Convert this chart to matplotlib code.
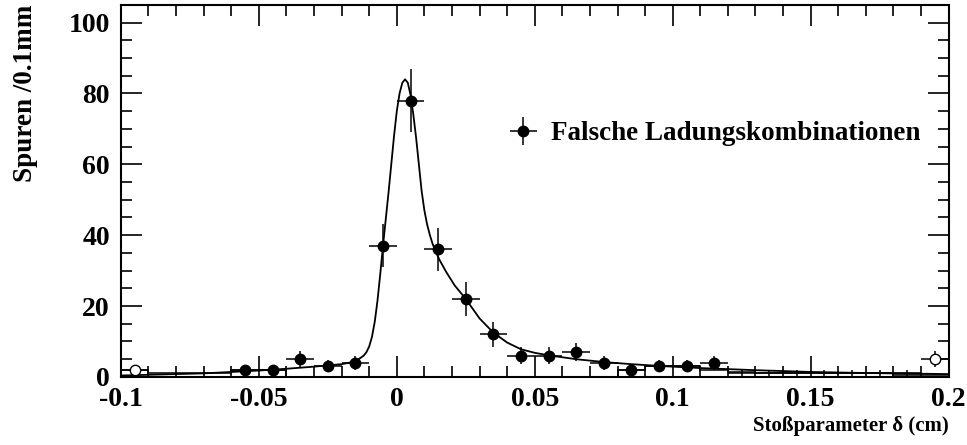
import numpy as np
import matplotlib
matplotlib.use('Agg')
import matplotlib.pyplot as plt
from matplotlib.ticker import MultipleLocator

plt.rcParams['font.family'] = ['Liberation Serif', 'DejaVu Serif']
plt.rcParams['font.weight'] = 'bold'

# data points (bin centres, counts), wrong charge combinations
x_pts = [-0.055, -0.045, -0.035, -0.025, -0.015, -0.005, 0.005, 0.015, 0.025,
         0.035, 0.045, 0.055, 0.065, 0.075, 0.085, 0.095, 0.105, 0.115]
y_pts = [2, 2, 5, 3, 4, 37, 78, 36, 22, 12, 6, 6, 7, 4, 2, 3, 3, 4]

# points outside the fit range (open circles)
x_out = [-0.095, 0.195]
y_out = [2, 5]

# near-empty bins, drawn as error crosses only
x_low = [0.125, 0.135, 0.145, 0.155, 0.165, 0.175, 0.185]
y_low = [1, 1, 1, 1, 1, 1, 1]

# low histogram underneath (bin edges from -0.1 to 0.2, width 0.01)
hist_counts = [2, 1, 1, 1, 2, 2, 0, 0, 0, 0, 0, 0, 0, 0, 0, 0, 0, 0,
               2, 3, 3, 2, 1.5, 1, 1, 1, 1, 1, 0.5, 0.5]

# fit curve
fit_x = [-0.1, -0.09, -0.08, -0.07, -0.06, -0.05, -0.04, -0.03, -0.02, -0.016,
         -0.014, -0.012, -0.011, -0.010, -0.009, -0.008, -0.007, -0.006, -0.005,
         -0.004, -0.003, -0.002, -0.001, 0.0, 0.001, 0.002, 0.003, 0.004, 0.005,
         0.006, 0.007, 0.008, 0.009, 0.010, 0.011, 0.012, 0.013, 0.014, 0.0155,
         0.018, 0.021, 0.025, 0.030, 0.035, 0.040, 0.045, 0.050, 0.055, 0.065,
         0.075, 0.085, 0.095, 0.11, 0.13, 0.15, 0.17, 0.2]
fit_y = [0.4, 0.6, 0.8, 1.0, 1.4, 1.8, 2.3, 2.9, 3.6, 4.2,
         4.9, 6.0, 7.0, 8.6, 11.3, 15.5, 21.5, 29, 37,
         44.5, 52, 60, 68, 75, 80, 83, 84, 83, 79.5,
         74, 67.5, 60, 52.5, 47, 43, 40, 37.5, 35.5, 33,
         29.5, 25.8, 22, 16.5, 12.5, 9.7, 7.8, 6.8, 6.1, 5.0,
         4.2, 3.6, 3.1, 2.5, 1.9, 1.4, 1.1, 0.8]

edges = np.round(np.arange(-0.1, 0.2001, 0.01), 3)

fig = plt.figure(figsize=(9.67, 4.45), dpi=100)
ax = fig.add_axes([0.125, 0.153, 0.856, 0.836])

ax.stairs(hist_counts, edges, color='black', linewidth=1.1)
ax.plot(fit_x, fit_y, color='black', linewidth=1.3)

ax.errorbar(x_low, y_low, xerr=0.005, yerr=1, fmt='none', ecolor='black',
            elinewidth=1.1, capsize=0)
ax.errorbar(x_pts, y_pts, xerr=0.005, yerr=np.sqrt(y_pts), fmt='o', color='black',
            markersize=7.5, elinewidth=1.1, capsize=0,
            label='Falsche Ladungskombinationen')
ax.errorbar(x_out, y_out, xerr=0.005, yerr=np.sqrt(y_out), fmt='o', color='black',
            mfc='white', mec='black', markersize=7.5, elinewidth=1.1, capsize=0)

ax.set_xlim(-0.1, 0.2)
ax.set_ylim(0, 105)
ax.xaxis.set_minor_locator(MultipleLocator(0.01))
ax.yaxis.set_major_locator(MultipleLocator(20))
ax.yaxis.set_minor_locator(MultipleLocator(5))
ax.set_xticks([-0.1, -0.05, 0, 0.05, 0.1, 0.15, 0.2])
ax.set_xticklabels(['-0.1', '-0.05', '0', '0.05', '0.1', '0.15', '0.2'])
ax.tick_params(which='both', direction='in', top=True, right=True, width=1.2,
               labelsize=20)
ax.tick_params(axis='x', pad=7)
ax.tick_params(axis='y', pad=8)
ax.tick_params(which='major', length=15)
ax.tick_params(which='minor', length=8)
for s in ax.spines.values():
    s.set_linewidth(1.5)

ax.set_xlabel('Stoßparameter δ (cm)', fontsize=15, fontweight='bold', loc='right',
              labelpad=3)
ax.set_ylabel('Spuren /0.1mm', fontsize=19.5, fontweight='bold', loc='top',
              labelpad=22)

leg = ax.legend(loc='center left', bbox_to_anchor=(0.47, 0.653), frameon=False,
                fontsize=19.5, handlelength=1.0, handletextpad=0.5,
                borderpad=0, borderaxespad=0)

fig.savefig('out.png', dpi=100)
